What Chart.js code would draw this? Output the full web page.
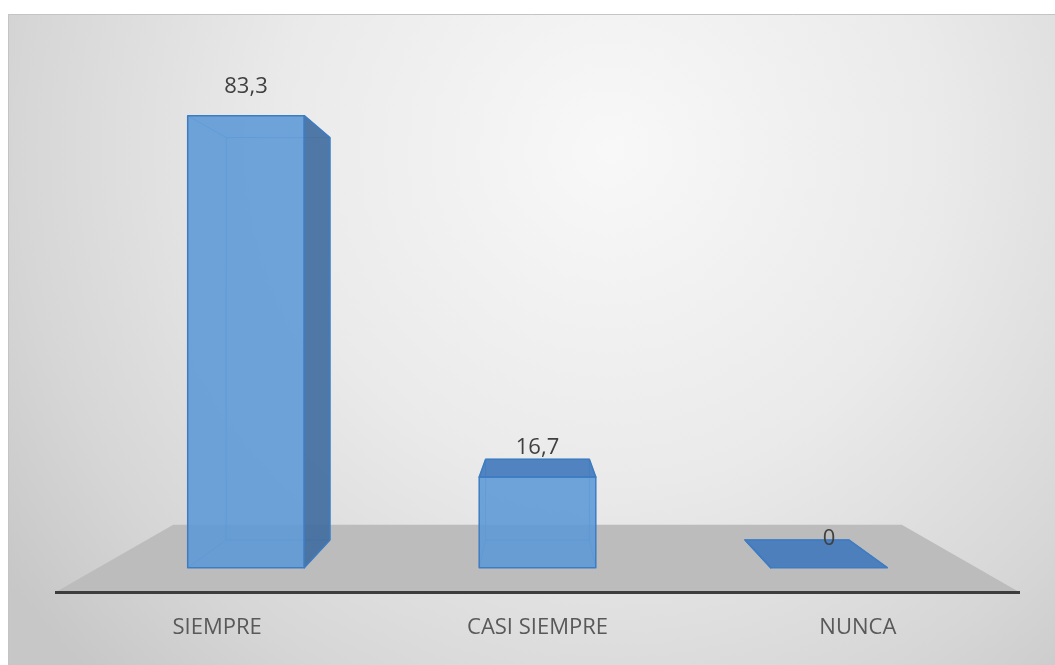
<!DOCTYPE html>
<html>
<head>
<meta charset="utf-8">
<script src="https://cdn.jsdelivr.net/npm/chart.js@4.4.1/dist/chart.umd.min.js"></script>
<style>
  html, body { margin: 0; padding: 0; background: #fff; }
  canvas { display: block; }
</style>
</head>
<body>
<canvas id="chart" width="1055" height="665"></canvas>
<script>
const categories = ["SIEMPRE", "CASI SIEMPRE", "NUNCA"];
const percentages = [83.3, 16.7, 0];

// perspective depth factors (1 = front plane of the floor)
const COL_FRONT = 0.91;
const COL_BACK = 0.81;
const FLOOR_BACK = 0.755;

const FONT = '"Open Sans", "Liberation Sans", sans-serif';

function vanishing(area) {
  return {
    x: (area.left + area.right) / 2,
    y: area.top + (area.bottom - area.top) * 0.483
  };
}

function project(px, py, depth, vp) {
  return [vp.x + (px - vp.x) * depth, vp.y + (py - vp.y) * depth];
}

function poly(ctx, pts) {
  ctx.beginPath();
  ctx.moveTo(pts[0][0], pts[0][1]);
  for (let i = 1; i < pts.length; i++) ctx.lineTo(pts[i][0], pts[i][1]);
  ctx.closePath();
}

// grey backdrop with the soft light spot
const backdrop = {
  id: 'backdrop',
  beforeDraw(chart) {
    const ctx = chart.ctx;
    const w = chart.width, h = chart.height;
    ctx.save();
    ctx.fillStyle = '#ffffff';
    ctx.fillRect(0, 0, w, h);
    const g = ctx.createRadialGradient(610, 150, 0, 610, 150, 740);
    g.addColorStop(0, '#f8f8f8');
    g.addColorStop(0.45, '#eaeaea');
    g.addColorStop(0.8, '#d6d6d6');
    g.addColorStop(1, '#c7c7c7');
    ctx.fillStyle = g;
    ctx.fillRect(8, 14, w - 8, h - 14);
    ctx.strokeStyle = '#c4c4c4';
    ctx.lineWidth = 1;
    ctx.beginPath();
    ctx.moveTo(8.5, h);
    ctx.lineTo(8.5, 14.5);
    ctx.lineTo(w, 14.5);
    ctx.stroke();
    ctx.restore();
  }
};

// floor plane under the columns
const floor = {
  id: 'floor',
  beforeDatasetsDraw(chart) {
    const ctx = chart.ctx;
    const area = chart.chartArea;
    const vp = vanishing(area);
    const l = area.left - 2, r = area.right + 2, b = area.bottom;
    const pts = [
      [l, b], [r, b],
      project(r, b, FLOOR_BACK, vp),
      project(l, b, FLOOR_BACK, vp)
    ];
    ctx.save();
    poly(ctx, pts);
    ctx.fillStyle = '#bcbcbc';
    ctx.fill();
    ctx.beginPath();
    ctx.moveTo(l, b);
    ctx.lineTo(r, b);
    ctx.strokeStyle = '#3d3d3d';
    ctx.lineWidth = 3;
    ctx.stroke();
    ctx.restore();
  }
};

// 3D columns built from the bar elements, plus value labels
const columns = {
  id: 'columns',
  afterDatasetsDraw(chart) {
    const ctx = chart.ctx;
    const area = chart.chartArea;
    const vp = vanishing(area);
    const meta = chart.getDatasetMeta(0);
    ctx.save();
    meta.data.forEach((el, i) => {
      const { x, y, base, width } = el.getProps(['x', 'y', 'base', 'width'], true);
      const left = x - width / 2, right = x + width / 2;
      const top = Math.min(y, base), bottom = Math.max(y, base);
      const f = {
        tl: project(left, top, COL_FRONT, vp), tr: project(right, top, COL_FRONT, vp),
        br: project(right, bottom, COL_FRONT, vp), bl: project(left, bottom, COL_FRONT, vp)
      };
      const k = {
        tl: project(left, top, COL_BACK, vp), tr: project(right, top, COL_BACK, vp),
        br: project(right, bottom, COL_BACK, vp), bl: project(left, bottom, COL_BACK, vp)
      };

      // hidden edges seen through the translucent faces
      ctx.strokeStyle = 'rgba(70,130,200,0.55)';
      ctx.lineWidth = 1;
      poly(ctx, [k.tl, k.tr, k.br, k.bl]);
      ctx.stroke();
      [['tl', 'tl'], ['bl', 'bl'], ['tr', 'tr'], ['br', 'br']].forEach(([a, b]) => {
        ctx.beginPath();
        ctx.moveTo(f[a][0], f[a][1]);
        ctx.lineTo(k[b][0], k[b][1]);
        ctx.stroke();
      });

      const faces = [];
      if (f.tr[0] < vp.x) faces.push({ pts: [f.tr, k.tr, k.br, f.br], fill: 'rgba(62,108,158,0.9)' });
      if (f.tl[0] > vp.x) faces.push({ pts: [f.tl, k.tl, k.bl, f.bl], fill: 'rgba(62,108,158,0.9)' });
      if (f.tl[1] > vp.y) faces.push({ pts: [f.tl, f.tr, k.tr, k.tl], fill: 'rgba(66,122,188,0.92)' });
      if (bottom - top > 0.5) faces.push({ pts: [f.tl, f.tr, f.br, f.bl], fill: 'rgba(91,152,214,0.88)' });

      faces.forEach(face => {
        poly(ctx, face.pts);
        ctx.fillStyle = face.fill;
        ctx.fill();
      });
      ctx.strokeStyle = '#3e7cc2';
      ctx.lineWidth = 1.5;
      ctx.lineJoin = 'round';
      faces.forEach(face => {
        poly(ctx, face.pts);
        ctx.stroke();
      });

      // value label above the front top edge
      const v = chart.data.datasets[0].data[i];
      ctx.fillStyle = '#404040';
      ctx.font = '22px ' + FONT;
      ctx.textAlign = 'center';
      ctx.textBaseline = 'middle';
      ctx.fillText(String(v).replace('.', ','), (f.tl[0] + f.tr[0]) / 2, f.tl[1] - 29);
    });
    ctx.restore();
  }
};

new Chart(document.getElementById('chart'), {
  type: 'bar',
  data: {
    labels: categories,
    datasets: [{
      data: percentages,
      backgroundColor: 'rgba(0,0,0,0)',
      borderWidth: 0,
      barPercentage: 0.4,
      categoryPercentage: 1
    }]
  },
  options: {
    responsive: false,
    devicePixelRatio: 1,
    animation: false,
    layout: {
      padding: { left: 57, right: 37, top: 56, bottom: 2 }
    },
    plugins: {
      legend: { display: false },
      tooltip: { enabled: false }
    },
    scales: {
      x: {
        grid: { display: false, drawTicks: false },
        border: { display: false },
        ticks: {
          color: '#595959',
          padding: 22,
          maxRotation: 0,
          font: { size: 22, family: FONT }
        }
      },
      y: {
        display: false,
        min: 0,
        max: 90
      }
    }
  },
  plugins: [backdrop, floor, columns]
});
</script>
</body>
</html>
